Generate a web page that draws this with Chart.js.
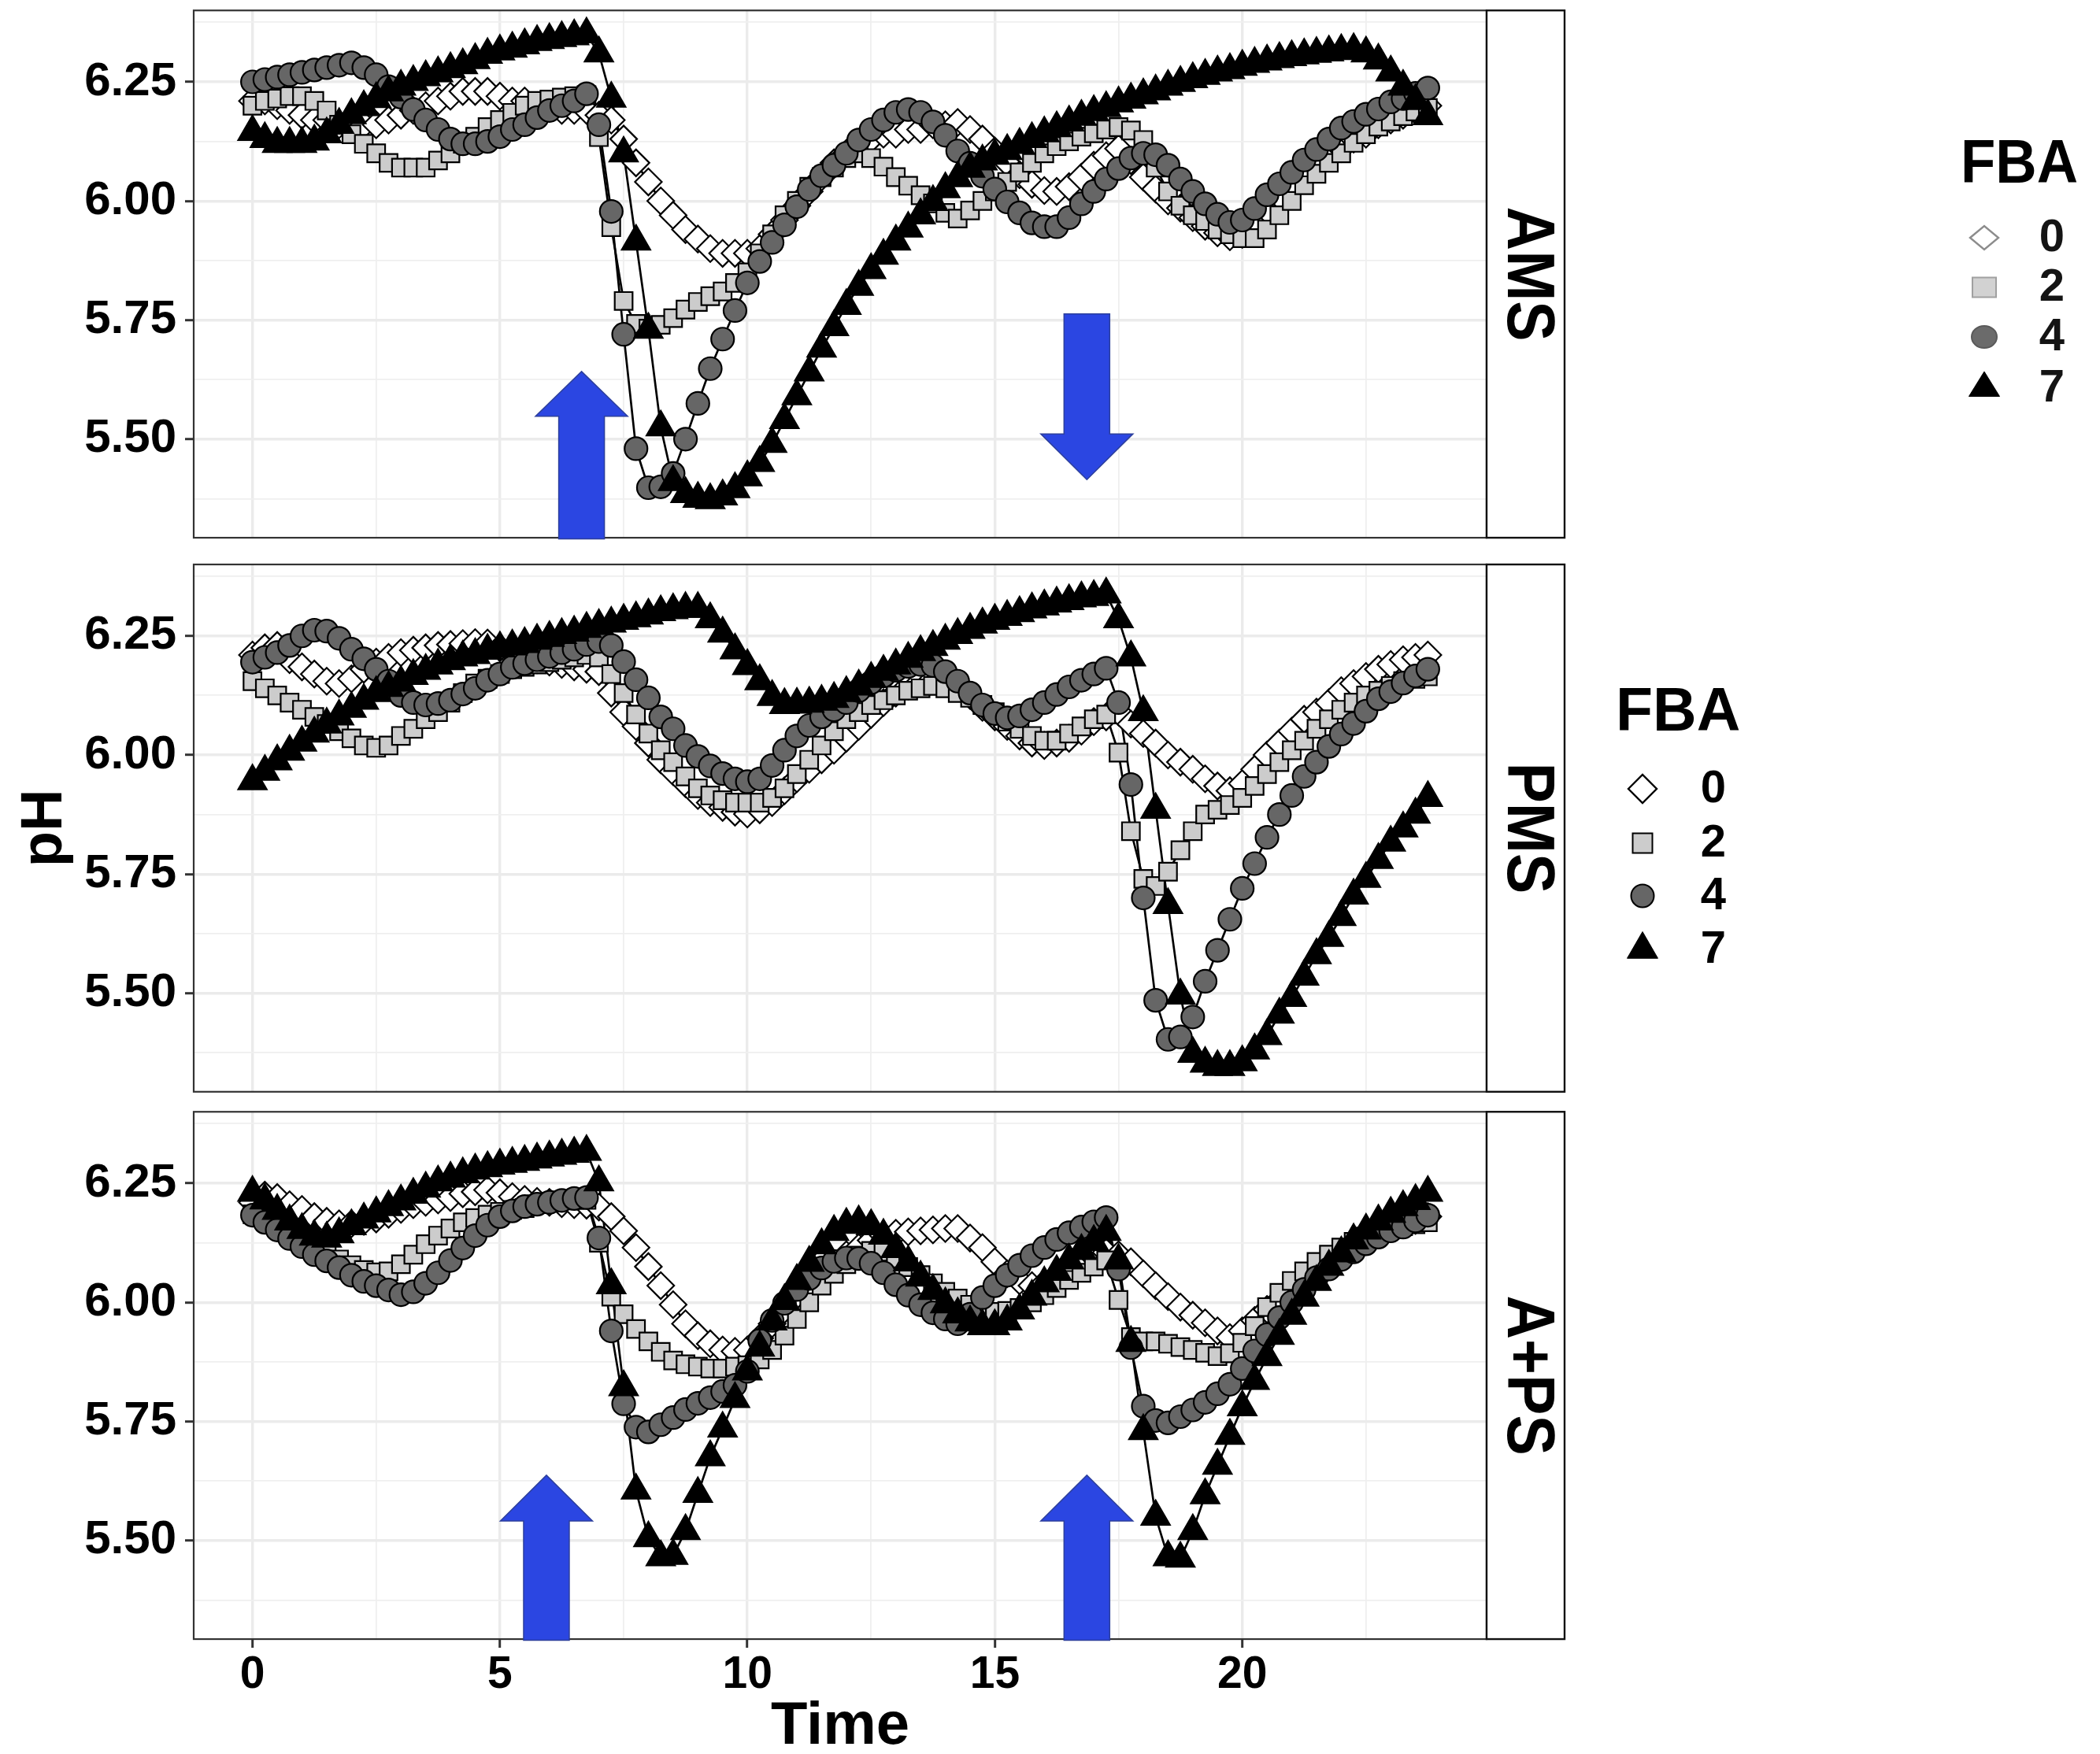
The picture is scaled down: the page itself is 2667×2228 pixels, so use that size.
<!DOCTYPE html>
<html>
<head>
<meta charset="utf-8">
<script src="https://cdn.jsdelivr.net/npm/chart.js@4.4.1/dist/chart.umd.min.js"></script>
<style>
  html, body { margin: 0; padding: 0; background: #ffffff; }
  body { width: 2667px; height: 2228px; position: relative; overflow: hidden; }
  canvas { position: absolute; left: 0; }
</style>
</head>
<body>
<canvas id="panel0" width="2667" height="700" style="top:0px"></canvas>
<canvas id="panel1" width="2667" height="700" style="top:700px"></canvas>
<canvas id="panel2" width="2667" height="828" style="top:1400px"></canvas>
<script>
const FONT = "'Liberation Sans', Arial, Helvetica, sans-serif";

// sampling times (h)
const hours = [
  0, 0.25, 0.5, 0.75, 1, 1.25, 1.5, 1.75, 2, 2.25, 2.5, 2.75,
  3, 3.25, 3.5, 3.75, 4, 4.25, 4.5, 4.75, 5, 5.25, 5.5, 5.75,
  6, 6.25, 6.5, 6.75, 7, 7.25, 7.5, 7.75, 8, 8.25, 8.5, 8.75,
  9, 9.25, 9.5, 9.75, 10, 10.25, 10.5, 10.75, 11, 11.25, 11.5, 11.75,
  12, 12.25, 12.5, 12.75, 13, 13.25, 13.5, 13.75, 14, 14.25, 14.5, 14.75,
  15, 15.25, 15.5, 15.75, 16, 16.25, 16.5, 16.75, 17, 17.25, 17.5, 17.75,
  18, 18.25, 18.5, 18.75, 19, 19.25, 19.5, 19.75, 20, 20.25, 20.5, 20.75,
  21, 21.25, 21.5, 21.75, 22, 22.25, 22.5, 22.75, 23, 23.25, 23.5, 23.75
];

const panelNames = ['AMS', 'PMS', 'A+PS'];
const fbaLevels = ['0', '2', '4', '7'];
const xTickValues = [0, 5, 10, 15, 20];
const yTickValues = [5.5, 5.75, 6.0, 6.25];
const xGridValues = [0, 2.5, 5, 7.5, 10, 12.5, 15, 17.5, 20, 22.5];
const yGridValues = [5.375, 5.5, 5.625, 5.75, 5.875, 6.0, 6.125, 6.25, 6.375];

// AMS
const amsFba0 = [
  6.21, 6.21, 6.20, 6.19, 6.18, 6.17, 6.17, 6.16, 6.16, 6.16, 6.16, 6.17,
  6.18, 6.19, 6.20, 6.21, 6.22, 6.23, 6.23, 6.23, 6.22, 6.21, 6.21, 6.20,
  6.20, 6.19, 6.19, 6.19, 6.18, 6.17, 6.13, 6.08, 6.04, 6.00, 5.97, 5.94,
  5.92, 5.90, 5.89, 5.89, 5.89, 5.90, 5.93, 5.96, 5.99, 6.02, 6.05, 6.08,
  6.10, 6.12, 6.13, 6.14, 6.14, 6.15, 6.15, 6.16, 6.16, 6.165, 6.15, 6.13,
  6.105, 6.08, 6.055, 6.035, 6.022, 6.02, 6.03, 6.05, 6.075, 6.095, 6.11, 6.085,
  6.05, 6.025, 6.00, 5.985, 5.965, 5.947, 5.933, 5.925, 5.93, 5.95, 5.98, 6.01,
  6.04, 6.06, 6.08, 6.10, 6.11, 6.13, 6.14, 6.16, 6.17, 6.18, 6.19, 6.20
];
const amsFba2 = [
  6.20, 6.21, 6.215, 6.22, 6.22, 6.21, 6.19, 6.16, 6.14, 6.12, 6.10, 6.08,
  6.07, 6.07, 6.07, 6.085, 6.10, 6.12, 6.135, 6.155, 6.17, 6.185, 6.20, 6.21,
  6.213, 6.217, 6.22, 6.222, 6.134, 5.945, 5.79, 5.742, 5.732, 5.74, 5.754, 5.772,
  5.788, 5.80, 5.81, 5.828, 5.85, 5.89, 5.93, 5.97, 6.00, 6.03, 6.05, 6.07,
  6.09, 6.10, 6.09, 6.072, 6.05, 6.032, 6.012, 5.995, 5.975, 5.963, 5.98, 6.00,
  6.02, 6.04, 6.06, 6.08, 6.10, 6.115, 6.125, 6.135, 6.142, 6.15, 6.155, 6.148,
  6.128, 6.07, 6.02, 5.99, 5.97, 5.958, 5.94, 5.93, 5.922, 5.922, 5.94, 5.97,
  6.00, 6.033, 6.057, 6.08, 6.10, 6.122, 6.14, 6.156, 6.167, 6.178, 6.188, 6.195
];
const amsFba4 = [
  6.25, 6.255, 6.26, 6.265, 6.27, 6.275, 6.28, 6.285, 6.29, 6.28, 6.265, 6.24,
  6.218, 6.192, 6.17, 6.15, 6.13, 6.12, 6.12, 6.125, 6.135, 6.15, 6.16, 6.175,
  6.19, 6.20, 6.21, 6.225, 6.16, 5.978, 5.72, 5.48, 5.398, 5.40, 5.428, 5.50,
  5.575, 5.648, 5.71, 5.77, 5.828, 5.873, 5.913, 5.95, 5.988, 6.024, 6.053, 6.075,
  6.10, 6.128, 6.15, 6.17, 6.186, 6.192, 6.186, 6.166, 6.138, 6.105, 6.079, 6.052,
  6.025, 5.998, 5.975, 5.954, 5.946, 5.946, 5.965, 5.994, 6.02, 6.046, 6.068, 6.09,
  6.10, 6.097, 6.075, 6.046, 6.02, 5.994, 5.972, 5.955, 5.96, 5.984, 6.013, 6.036,
  6.06, 6.086, 6.108, 6.13, 6.153, 6.167, 6.182, 6.193, 6.208, 6.215, 6.226, 6.237
];
const amsFba7 = [
  6.145, 6.13, 6.12, 6.12, 6.12, 6.125, 6.14, 6.16, 6.18, 6.197, 6.214, 6.228,
  6.24, 6.25, 6.26, 6.268, 6.277, 6.285, 6.296, 6.307, 6.314, 6.32, 6.327, 6.334,
  6.338, 6.342, 6.346, 6.35, 6.31, 6.215, 6.10, 5.915, 5.73, 5.525, 5.41, 5.385,
  5.375, 5.372, 5.38, 5.395, 5.42, 5.45, 5.49, 5.54, 5.59, 5.64, 5.69, 5.735,
  5.78, 5.82, 5.855, 5.885, 5.915, 5.942, 5.97, 5.998, 6.025, 6.048, 6.068, 6.083,
  6.095, 6.105, 6.118, 6.13, 6.142, 6.153, 6.165, 6.177, 6.187, 6.195, 6.205, 6.213,
  6.222, 6.23, 6.24, 6.248, 6.256, 6.263, 6.27, 6.275, 6.282, 6.288, 6.293, 6.298,
  6.302, 6.306, 6.309, 6.312, 6.315, 6.317, 6.31, 6.295, 6.27, 6.24, 6.21, 6.178
];

// PMS
const pmsFba0 = [
  6.21, 6.225, 6.23, 6.20, 6.185, 6.17, 6.155, 6.15, 6.16, 6.18, 6.195, 6.205,
  6.215, 6.22, 6.225, 6.23, 6.232, 6.234, 6.236, 6.235, 6.225, 6.215, 6.205, 6.20,
  6.195, 6.19, 6.185, 6.18, 6.175, 6.13, 6.09, 6.06, 6.025, 5.99, 5.965, 5.94,
  5.915, 5.90, 5.89, 5.88, 5.876, 5.885, 5.90, 5.925, 5.95, 5.97, 5.99, 6.01,
  6.035, 6.06, 6.085, 6.11, 6.13, 6.145, 6.155, 6.16, 6.165, 6.15, 6.125, 6.10,
  6.08, 6.06, 6.04, 6.025, 6.02, 6.025, 6.035, 6.05, 6.07, 6.08, 6.09, 6.065,
  6.045, 6.025, 6.00, 5.985, 5.97, 5.95, 5.935, 5.925, 5.94, 5.97, 6.00, 6.025,
  6.05, 6.075, 6.09, 6.11, 6.135, 6.15, 6.165, 6.18, 6.19, 6.20, 6.205, 6.21
];
const pmsFba2 = [
  6.155, 6.14, 6.125, 6.11, 6.095, 6.08, 6.065, 6.05, 6.035, 6.02, 6.015, 6.02,
  6.04, 6.055, 6.075, 6.09, 6.11, 6.13, 6.15, 6.16, 6.17, 6.18, 6.185, 6.19,
  6.195, 6.20, 6.205, 6.21, 6.205, 6.17, 6.13, 6.085, 6.045, 6.01, 5.985, 5.955,
  5.93, 5.915, 5.905, 5.90, 5.90, 5.90, 5.91, 5.93, 5.96, 5.99, 6.02, 6.05,
  6.075, 6.09, 6.105, 6.115, 6.125, 6.135, 6.14, 6.145, 6.14, 6.13, 6.12, 6.105,
  6.09, 6.07, 6.055, 6.04, 6.03, 6.03, 6.045, 6.06, 6.075, 6.085, 6.005, 5.84,
  5.74, 5.725, 5.755, 5.80, 5.84, 5.875, 5.885, 5.895, 5.91, 5.935, 5.96, 5.985,
  6.01, 6.03, 6.055, 6.075, 6.095, 6.11, 6.125, 6.135, 6.145, 6.155, 6.16, 6.165
];
const pmsFba4 = [
  6.195, 6.205, 6.215, 6.23, 6.25, 6.262, 6.26, 6.245, 6.222, 6.202, 6.18, 6.155,
  6.125, 6.11, 6.105, 6.108, 6.115, 6.128, 6.14, 6.157, 6.17, 6.184, 6.192, 6.20,
  6.207, 6.215, 6.222, 6.232, 6.238, 6.23, 6.196, 6.158, 6.12, 6.08, 6.055, 6.02,
  5.997, 5.977, 5.961, 5.95, 5.944, 5.95, 5.978, 6.01, 6.04, 6.062, 6.08, 6.095,
  6.11, 6.135, 6.152, 6.166, 6.178, 6.186, 6.19, 6.188, 6.175, 6.155, 6.13, 6.105,
  6.087, 6.078, 6.082, 6.095, 6.11, 6.127, 6.143, 6.157, 6.17, 6.182, 6.11, 5.938,
  5.70, 5.485, 5.403, 5.408, 5.45, 5.525, 5.59, 5.655, 5.72, 5.772, 5.827, 5.875,
  5.915, 5.955, 5.985, 6.018, 6.044, 6.066, 6.092, 6.118, 6.133, 6.151, 6.166, 6.18
];
const pmsFba7 = [
  5.945, 5.965, 5.987, 6.007, 6.026, 6.045, 6.064, 6.081, 6.097, 6.114, 6.13, 6.141,
  6.152, 6.166, 6.177, 6.188, 6.197, 6.205, 6.21, 6.219, 6.224, 6.228, 6.233, 6.24,
  6.246, 6.252, 6.257, 6.265, 6.271, 6.276, 6.282, 6.287, 6.293, 6.30, 6.304, 6.307,
  6.307, 6.285, 6.255, 6.22, 6.187, 6.155, 6.122, 6.105, 6.106, 6.108, 6.112, 6.118,
  6.13, 6.144, 6.16, 6.175, 6.188, 6.202, 6.216, 6.227, 6.24, 6.252, 6.263, 6.274,
  6.282, 6.29, 6.298, 6.306, 6.312, 6.318, 6.323, 6.329, 6.332, 6.337, 6.285, 6.205,
  6.09, 5.885, 5.685, 5.495, 5.373, 5.352, 5.345, 5.345, 5.355, 5.38, 5.41, 5.455,
  5.49, 5.535, 5.58, 5.616, 5.66, 5.705, 5.74, 5.78, 5.816, 5.846, 5.875, 5.91
];

// A+PS
const apsFba0 = [
  6.21, 6.225, 6.22, 6.205, 6.195, 6.18, 6.17, 6.165, 6.165, 6.17, 6.175, 6.185,
  6.195, 6.205, 6.21, 6.215, 6.22, 6.228, 6.232, 6.236, 6.23, 6.222, 6.216, 6.212,
  6.21, 6.207, 6.205, 6.204, 6.20, 6.18, 6.15, 6.115, 6.075, 6.035, 5.995, 5.955,
  5.93, 5.913, 5.90, 5.897, 5.90, 5.925, 5.955, 5.985, 6.015, 6.04, 6.06, 6.08,
  6.10, 6.115, 6.13, 6.14, 6.145, 6.148, 6.15, 6.152, 6.155, 6.155, 6.135, 6.115,
  6.085, 6.06, 6.045, 6.035, 6.04, 6.05, 6.065, 6.08, 6.095, 6.105, 6.10, 6.085,
  6.06, 6.035, 6.012, 5.99, 5.973, 5.957, 5.94, 5.926, 5.94, 5.962, 5.985, 6.005,
  6.025, 6.045, 6.065, 6.085, 6.10, 6.115, 6.13, 6.145, 6.155, 6.165, 6.172, 6.18
];
const apsFba2 = [
  6.185, 6.175, 6.165, 6.15, 6.135, 6.12, 6.105, 6.09, 6.078, 6.068, 6.063, 6.065,
  6.08, 6.10, 6.122, 6.14, 6.155, 6.168, 6.177, 6.184, 6.19, 6.194, 6.198, 6.206,
  6.21, 6.214, 6.215, 6.215, 6.125, 6.012, 5.975, 5.944, 5.918, 5.896, 5.878, 5.87,
  5.865, 5.861, 5.861, 5.865, 5.868, 5.88, 5.90, 5.93, 5.965, 6.00, 6.035, 6.06,
  6.08, 6.098, 6.108, 6.106, 6.092, 6.074, 6.057, 6.04, 6.022, 6.008, 5.995, 5.986,
  5.98, 5.982, 5.988, 6.00, 6.015, 6.03, 6.047, 6.062, 6.075, 6.088, 6.005, 5.927,
  5.918, 5.918, 5.913, 5.906, 5.90, 5.894, 5.887, 5.893, 5.915, 5.95, 5.99, 6.02,
  6.045, 6.065, 6.085, 6.10, 6.115, 6.127, 6.138, 6.147, 6.155, 6.16, 6.164, 6.168
];
const apsFba4 = [
  6.183, 6.168, 6.152, 6.134, 6.117, 6.10, 6.087, 6.073, 6.057, 6.044, 6.035, 6.026,
  6.016, 6.022, 6.04, 6.062, 6.088, 6.114, 6.14, 6.162, 6.18, 6.192, 6.201, 6.206,
  6.21, 6.214, 6.218, 6.22, 6.135, 5.94, 5.787, 5.738, 5.728, 5.743, 5.758, 5.775,
  5.788, 5.80, 5.813, 5.826, 5.855, 5.92, 5.962, 5.998, 6.027, 6.05, 6.072, 6.086,
  6.093, 6.092, 6.082, 6.062, 6.037, 6.015, 5.995, 5.978, 5.965, 5.955, 5.975, 6.01,
  6.035, 6.057, 6.078, 6.098, 6.115, 6.132, 6.146, 6.158, 6.169, 6.178, 6.07, 5.905,
  5.782, 5.752, 5.747, 5.76, 5.774, 5.79, 5.808, 5.828, 5.861, 5.898, 5.932, 5.968,
  6.00, 6.027, 6.052, 6.07, 6.09, 6.106, 6.123, 6.137, 6.15, 6.158, 6.171, 6.183
];
const apsFba7 = [
  6.23, 6.214, 6.192, 6.17, 6.152, 6.138, 6.134, 6.143, 6.16, 6.174, 6.187, 6.20,
  6.212, 6.226, 6.239, 6.252, 6.26, 6.269, 6.277, 6.282, 6.287, 6.291, 6.295, 6.30,
  6.304, 6.308, 6.312, 6.316, 6.252, 6.036, 5.822, 5.605, 5.505, 5.465, 5.468, 5.52,
  5.598, 5.675, 5.735, 5.797, 5.855, 5.905, 5.96, 6.003, 6.045, 6.083, 6.12, 6.148,
  6.163, 6.168, 6.16, 6.14, 6.112, 6.084, 6.052, 6.024, 5.996, 5.975, 5.958, 5.95,
  5.95, 5.96, 5.983, 6.012, 6.04, 6.064, 6.088, 6.108, 6.127, 6.148, 6.088, 5.915,
  5.73, 5.55, 5.465, 5.462, 5.52, 5.595, 5.657, 5.72, 5.78, 5.835, 5.885, 5.93,
  5.972, 6.01, 6.043, 6.075, 6.103, 6.13, 6.151, 6.17, 6.186, 6.20, 6.213, 6.23
];

const seriesByPanel = [
  [amsFba0, amsFba2, amsFba4, amsFba7],
  [pmsFba0, pmsFba2, pmsFba4, pmsFba7],
  [apsFba0, apsFba2, apsFba4, apsFba7]
];

// blue arrows, in data units (tail null = from the panel bottom)
const arrowMarks = [
  { panel: 0, hour: 6.65, tail: null, neck: 5.548, tip: 5.642 },
  { panel: 0, hour: 16.86, tail: 5.763, neck: 5.511, tip: 5.415 },
  { panel: 2, hour: 5.94, tail: null, neck: 5.541, tip: 5.637 },
  { panel: 2, hour: 16.86, tail: null, neck: 5.541, tip: 5.637 }
];

// ---- look ----
const markerStyles = [
  { pointStyle: 'rectRot', radius: 17, fill: '#ffffff', border: 2.2 },
  { pointStyle: 'rect', radius: 16, fill: '#cccccc', border: 2.2 },
  { pointStyle: 'circle', radius: 14.5, fill: '#666666', border: 2.2 },
  { pointStyle: 'triangle', radius: 21.5, fill: '#000000', border: 1.5 }
];

const canvasTops = [0, 700, 1400];
const panelTops = [13.25, 717, 1412.25];
const PANEL_H = 669.8;
const Y_AXIS_W = 246;
const PLOT_RIGHT = 1888;
const STRIP_W = 99;
const PAGE_W = 2667;

const legendBoxes = [
  { panel: 1, titleX: 2052, titleY: 928, titleSize: 77, titleScale: 1, symX: 2086, labelX: 2176,
    rows: [1002, 1071, 1138, 1206], labelSize: 58, faded: false },
  { panel: 0, titleX: 2490, titleY: 232, titleSize: 78, titleScale: 0.93, symX: 2520, labelX: 2606,
    rows: [302, 365, 428, 493], labelSize: 58, faded: true }
];

function drawLegendSymbol(ctx, k, x, y, faded) {
  ctx.beginPath();
  if (k === 0) {
    const hw = 18, hh = faded ? 15 : 18;
    ctx.moveTo(x - hw, y); ctx.lineTo(x, y - hh); ctx.lineTo(x + hw, y); ctx.lineTo(x, y + hh); ctx.closePath();
    ctx.fillStyle = '#ffffff'; ctx.strokeStyle = faded ? '#8c8c8c' : '#000000'; ctx.lineWidth = 2.4;
  } else if (k === 1) {
    const hw = faded ? 15 : 12.5, hh = 12.5;
    ctx.rect(x - hw, y - hh, hw * 2, hh * 2);
    ctx.fillStyle = faded ? '#d2d2d2' : '#cccccc'; ctx.strokeStyle = faded ? '#a0a0a0' : '#000000'; ctx.lineWidth = 2;
  } else if (k === 2) {
    ctx.ellipse(x, y, faded ? 16 : 14.5, faded ? 14 : 14.5, 0, 0, Math.PI * 2);
    ctx.fillStyle = faded ? '#6b6b6b' : '#666666'; ctx.strokeStyle = faded ? '#5a5a5a' : '#000000'; ctx.lineWidth = 2;
  } else {
    const r = faded ? 21 : 22.5;
    const hw = faded ? 19.5 : r * Math.sqrt(3) / 2;
    ctx.moveTo(x, y - r); ctx.lineTo(x + hw, y + r / 2); ctx.lineTo(x - hw, y + r / 2); ctx.closePath();
    ctx.fillStyle = '#000000'; ctx.strokeStyle = '#000000'; ctx.lineWidth = 1;
  }
  ctx.fill();
  ctx.stroke();
}

const panelDecor = {
  id: 'panelDecor',
  afterDraw(chart, args, opts) {
    const { ctx, chartArea: a, scales } = chart;
    const p = opts.panel;

    ctx.save();
    ctx.strokeStyle = '#333333';
    ctx.lineWidth = 2.2;
    ctx.strokeRect(a.left, a.top, a.right - a.left, a.bottom - a.top);

    // facet strip
    ctx.fillStyle = '#ffffff';
    ctx.fillRect(a.right, a.top, STRIP_W, a.bottom - a.top);
    ctx.strokeStyle = '#111111';
    ctx.lineWidth = 2.4;
    ctx.strokeRect(a.right, a.top, STRIP_W, a.bottom - a.top);
    ctx.translate(a.right + STRIP_W / 2 + 1, (a.top + a.bottom) / 2);
    ctx.rotate(Math.PI / 2);
    ctx.scale(1, 1.1);
    ctx.font = 'bold 77px ' + FONT;
    ctx.fillStyle = '#000000';
    ctx.textAlign = 'center';
    ctx.textBaseline = 'middle';
    ctx.fillText(opts.strip, 0, 0);
    ctx.restore();

    // arrows
    ctx.save();
    arrowMarks.filter(m => m.panel === p).forEach(m => {
      const cx = scales.x.getPixelForValue(m.hour);
      const tipY = scales.y.getPixelForValue(m.tip);
      const neckY = scales.y.getPixelForValue(m.neck);
      const tailY = m.tail === null ? a.bottom + 1.5 : scales.y.getPixelForValue(m.tail);
      const sw = 29, hw = 58.5;
      ctx.beginPath();
      ctx.moveTo(cx - sw, tailY);
      ctx.lineTo(cx - sw, neckY);
      ctx.lineTo(cx - hw, neckY);
      ctx.lineTo(cx, tipY);
      ctx.lineTo(cx + hw, neckY);
      ctx.lineTo(cx + sw, neckY);
      ctx.lineTo(cx + sw, tailY);
      ctx.closePath();
      ctx.fillStyle = '#2b46e2';
      ctx.fill();
      ctx.strokeStyle = '#2c3f9c';
      ctx.lineWidth = 1.5;
      ctx.stroke();
    });
    ctx.restore();

    // legends
    legendBoxes.filter(l => l.panel === p).forEach(l => {
      const off = canvasTops[p];
      ctx.save();
      ctx.fillStyle = '#000000';
      ctx.textAlign = 'left';
      ctx.textBaseline = 'alphabetic';
      ctx.font = 'bold ' + l.titleSize + 'px ' + FONT;
      ctx.translate(l.titleX, l.titleY - off);
      ctx.scale(l.titleScale, 1);
      ctx.fillText('FBA', 0, 0);
      ctx.restore();
      l.rows.forEach((ry, k) => {
        ctx.save();
        drawLegendSymbol(ctx, k, l.symX, ry - off, l.faded);
        ctx.fillStyle = l.faded ? '#141414' : '#000000';
        ctx.font = 'bold ' + l.labelSize + 'px ' + FONT;
        ctx.textAlign = 'center';
        ctx.textBaseline = 'middle';
        ctx.fillText(fbaLevels[k], l.labelX, ry - off + 1);
        ctx.restore();
      });
    });
  }
};

Chart.defaults.font.family = FONT;
Chart.defaults.color = '#000000';

panelNames.forEach((name, p) => {
  const isBottom = p === 2;
  const canvas = document.getElementById('panel' + p);
  const padTop = panelTops[p] - canvasTops[p];
  const rest = canvas.height - padTop - PANEL_H;

  const datasets = [];
  seriesByPanel[p].forEach((vals, s) => {
    datasets.push({
      label: 'FBA ' + fbaLevels[s] + ' line',
      data: hours.map((h, i) => ({ x: h, y: vals[i] })),
      borderColor: '#000000',
      borderWidth: 2.7,
      pointRadius: 0,
      pointHoverRadius: 0,
      tension: 0,
      fill: false,
      order: 10
    });
  });
  seriesByPanel[p].forEach((vals, s) => {
    const m = markerStyles[s];
    datasets.push({
      label: 'FBA ' + fbaLevels[s],
      data: hours.map((h, i) => ({ x: h, y: vals[i] })),
      showLine: false,
      pointStyle: m.pointStyle,
      pointRadius: m.radius,
      pointHoverRadius: m.radius,
      pointBackgroundColor: m.fill,
      pointBorderColor: '#000000',
      pointBorderWidth: m.border,
      pointHoverBorderWidth: m.border,
      order: 4 - s
    });
  });

  new Chart(canvas, {
    type: 'line',
    data: { datasets },
    options: {
      responsive: false,
      animation: false,
      devicePixelRatio: 1,
      events: [],
      layout: {
        autoPadding: false,
        padding: { left: 0, right: PAGE_W - PLOT_RIGHT, top: padTop, bottom: isBottom ? 0 : rest }
      },
      plugins: {
        legend: { display: false },
        tooltip: { enabled: false },
        panelDecor: { panel: p, strip: name }
      },
      scales: {
        x: {
          type: 'linear',
          min: -1.1875,
          max: 24.9375,
          afterBuildTicks: s => { s.ticks = xGridValues.map(v => ({ value: v })); },
          afterFit: s => {
            s.height = isBottom ? rest : 0;
            s.paddingLeft = 0; s.paddingRight = 0; s.paddingTop = 0; s.paddingBottom = 0;
          },
          border: { display: false },
          grid: {
            color: c => xTickValues.includes(c.tick && c.tick.value) ? '#ebebeb' : '#efefef',
            lineWidth: c => xTickValues.includes(c.tick && c.tick.value) ? 3.4 : 1.8,
            drawTicks: isBottom,
            tickLength: 11,
            tickWidth: 3,
            tickColor: c => xTickValues.includes(c.tick && c.tick.value) ? '#333333' : 'rgba(0,0,0,0)'
          },
          ticks: {
            display: isBottom,
            autoSkip: false,
            maxRotation: 0,
            padding: 1,
            color: '#000000',
            font: { size: 57, weight: 'bold' },
            callback: v => xTickValues.includes(v) ? String(v) : ''
          },
          title: {
            display: isBottom,
            text: 'Time',
            color: '#000000',
            font: { size: 76, weight: 'bold', lineHeight: 0.9 },
            padding: { top: 0, bottom: 0 }
          }
        },
        y: {
          type: 'linear',
          min: 5.293,
          max: 6.40,
          afterBuildTicks: s => { s.ticks = yGridValues.map(v => ({ value: v })); },
          afterFit: s => {
            s.width = Y_AXIS_W;
            s.paddingLeft = 0; s.paddingRight = 0; s.paddingTop = 0; s.paddingBottom = 0;
          },
          border: { display: false },
          grid: {
            color: c => yTickValues.includes(c.tick && c.tick.value) ? '#ebebeb' : '#efefef',
            lineWidth: c => yTickValues.includes(c.tick && c.tick.value) ? 3.4 : 1.8,
            tickLength: 11,
            tickWidth: 3,
            tickColor: c => yTickValues.includes(c.tick && c.tick.value) ? '#333333' : 'rgba(0,0,0,0)'
          },
          ticks: {
            autoSkip: false,
            padding: 11,
            color: '#000000',
            font: { size: 60, weight: 'bold' },
            callback: v => yTickValues.includes(v) ? v.toFixed(2) : ''
          },
          title: {
            display: p === 1,
            text: 'pH',
            color: '#000000',
            font: { size: 74, weight: 'bold' },
            padding: { top: 13, bottom: 0 }
          }
        }
      }
    },
    plugins: [panelDecor]
  });
});
</script>
</body>
</html>
